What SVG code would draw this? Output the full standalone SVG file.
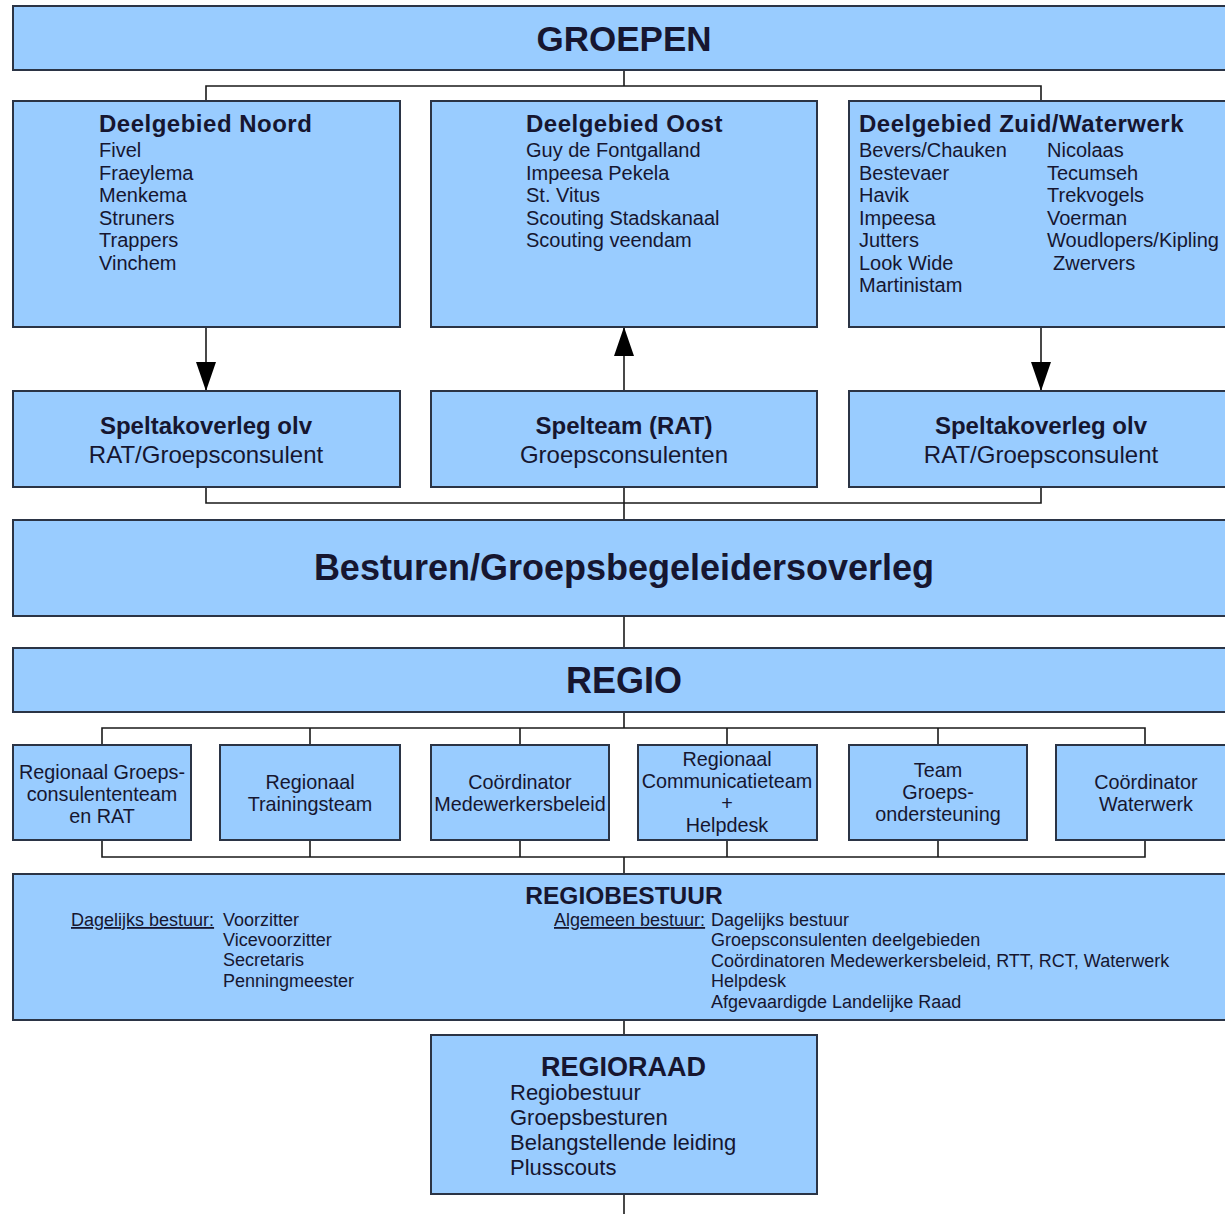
<svg xmlns="http://www.w3.org/2000/svg" width="1225" height="1214" viewBox="0 0 1225 1214">
<style>
.box{fill:#99ccff;stroke:#2b3445;stroke-width:2}
.c{fill:none;stroke:#1a1a1a;stroke-width:1.6}
text{font-family:"Liberation Sans",Arial,sans-serif;fill:#161630}
.b{font-weight:bold}
.m{text-anchor:middle}
.h1{font-size:24px;font-weight:bold;letter-spacing:0.5px}
.it{font-size:20px}
.s2{font-size:24px}
.r3{font-size:19.8px;text-anchor:middle}
.rb{font-size:18px}
.u{text-decoration:underline}
.rr{font-size:22px}
</style>
<defs>
<marker id="ah" viewBox="0 0 29 20" refX="29" refY="10" markerWidth="29" markerHeight="20" orient="auto" markerUnits="userSpaceOnUse">
<path d="M0,0 L29,10 L0,20 z" fill="#000"/>
</marker>
</defs>
<rect width="1225" height="1214" fill="#ffffff"/>

<g id="connectors">
<path class="c" d="M624 70 V86 M206 101 V86 H1041 V101"/>
<path class="c" d="M206 327 V391" marker-end="url(#ah)"/>
<path class="c" d="M624 391 V327" marker-end="url(#ah)"/>
<path class="c" d="M1041 327 V391" marker-end="url(#ah)"/>
<path class="c" d="M206 487 V503 H1041 V487 M624 487 V520"/>
<path class="c" d="M624 616 V648"/>
<path class="c" d="M624 712 V728 M102 745 V728 H1145 V745 M310 728 V745 M520 728 V745 M727 728 V745 M938 728 V745"/>
<path class="c" d="M102 840 V857 H1145 V840 M310 840 V857 M520 840 V857 M727 840 V857 M938 840 V857 M624 857 V874"/>
<path class="c" d="M624 1020 V1035"/>
<path class="c" d="M624 1194 V1214"/>
</g>

<g id="groepen">
<rect class="box" x="13" y="6" width="1230" height="64"/>
<text class="b m" x="624" y="51" font-size="35">GROEPEN</text>
</g>

<g id="noord">
<rect class="box" x="13" y="101" width="387" height="226"/>
<text class="h1" x="99" y="132">Deelgebied Noord</text>
<text class="it" x="99" y="157">Fivel</text>
<text class="it" x="99" y="179.5">Fraeylema</text>
<text class="it" x="99" y="202">Menkema</text>
<text class="it" x="99" y="224.5">Struners</text>
<text class="it" x="99" y="247">Trappers</text>
<text class="it" x="99" y="269.5">Vinchem</text>
</g>

<g id="oost">
<rect class="box" x="431" y="101" width="386" height="226"/>
<text class="h1" x="526" y="132">Deelgebied Oost</text>
<text class="it" x="526" y="157">Guy de Fontgalland</text>
<text class="it" x="526" y="179.5">Impeesa Pekela</text>
<text class="it" x="526" y="202">St. Vitus</text>
<text class="it" x="526" y="224.5">Scouting Stadskanaal</text>
<text class="it" x="526" y="247">Scouting veendam</text>
</g>

<g id="zuid">
<rect class="box" x="849" y="101" width="394" height="226"/>
<text class="h1" x="859" y="132">Deelgebied Zuid/Waterwerk</text>
<text class="it" x="859" y="157">Bevers/Chauken</text>
<text class="it" x="859" y="179.5">Bestevaer</text>
<text class="it" x="859" y="202">Havik</text>
<text class="it" x="859" y="224.5">Impeesa</text>
<text class="it" x="859" y="247">Jutters</text>
<text class="it" x="859" y="269.5">Look Wide</text>
<text class="it" x="859" y="292">Martinistam</text>
<text class="it" x="1047" y="157">Nicolaas</text>
<text class="it" x="1047" y="179.5">Tecumseh</text>
<text class="it" x="1047" y="202">Trekvogels</text>
<text class="it" x="1047" y="224.5">Voerman</text>
<text class="it" x="1047" y="247">Woudlopers/Kipling</text>
<text class="it" x="1053" y="269.5">Zwervers</text>
</g>

<g id="speltak-noord">
<rect class="box" x="13" y="391" width="387" height="96"/>
<text class="s2 b m" x="206" y="434">Speltakoverleg olv</text>
<text class="s2 m" x="206" y="463">RAT/Groepsconsulent</text>
</g>

<g id="spelteam">
<rect class="box" x="431" y="391" width="386" height="96"/>
<text class="s2 b m" x="624" y="434">Spelteam (RAT)</text>
<text class="s2 m" x="624" y="463">Groepsconsulenten</text>
</g>

<g id="speltak-zuid">
<rect class="box" x="849" y="391" width="394" height="96"/>
<text class="s2 b m" x="1041" y="434">Speltakoverleg olv</text>
<text class="s2 m" x="1041" y="463">RAT/Groepsconsulent</text>
</g>

<g id="besturen">
<rect class="box" x="13" y="520" width="1230" height="96"/>
<text class="b m" x="624" y="580" font-size="36">Besturen/Groepsbegeleidersoverleg</text>
</g>

<g id="regio">
<rect class="box" x="13" y="648" width="1230" height="64"/>
<text class="b m" x="624" y="693" font-size="36">REGIO</text>
</g>

<g id="rgc">
<rect class="box" x="13" y="745" width="178" height="95"/>
<text class="r3" x="102" y="779">Regionaal Groeps-</text>
<text class="r3" x="102" y="801">consulententeam</text>
<text class="r3" x="102" y="823">en RAT</text>
</g>

<g id="rtt">
<rect class="box" x="220" y="745" width="180" height="95"/>
<text class="r3" x="310" y="789">Regionaal</text>
<text class="r3" x="310" y="811">Trainingsteam</text>
</g>

<g id="cmb">
<rect class="box" x="431" y="745" width="178" height="95"/>
<text class="r3" x="520" y="789">Coördinator</text>
<text class="r3" x="520" y="811">Medewerkersbeleid</text>
</g>

<g id="rct">
<rect class="box" x="638" y="745" width="179" height="95"/>
<text class="r3" x="727" y="766">Regionaal</text>
<text class="r3" x="727" y="788">Communicatieteam</text>
<text class="r3" x="727" y="810">+</text>
<text class="r3" x="727" y="832">Helpdesk</text>
</g>

<g id="tgo">
<rect class="box" x="849" y="745" width="178" height="95"/>
<text class="r3" x="938" y="777">Team</text>
<text class="r3" x="938" y="799">Groeps-</text>
<text class="r3" x="938" y="821">ondersteuning</text>
</g>

<g id="cww">
<rect class="box" x="1056" y="745" width="187" height="95"/>
<text class="r3" x="1146" y="789">Coördinator</text>
<text class="r3" x="1146" y="811">Waterwerk</text>
</g>

<g id="regiobestuur">
<rect class="box" x="13" y="874" width="1230" height="146"/>
<text class="b m" x="624" y="904" font-size="24.5">REGIOBESTUUR</text>
<text class="rb u" x="71" y="926">Dagelijks bestuur:</text>
<text class="rb" x="223" y="926">Voorzitter</text>
<text class="rb" x="223" y="946">Vicevoorzitter</text>
<text class="rb" x="223" y="966">Secretaris</text>
<text class="rb" x="223" y="987">Penningmeester</text>
<text class="rb u" x="554" y="926">Algemeen bestuur:</text>
<text class="rb" x="711" y="926">Dagelijks bestuur</text>
<text class="rb" x="711" y="946">Groepsconsulenten deelgebieden</text>
<text class="rb" x="711" y="967">Coördinatoren Medewerkersbeleid, RTT, RCT, Waterwerk</text>
<text class="rb" x="711" y="987">Helpdesk</text>
<text class="rb" x="711" y="1008">Afgevaardigde Landelijke Raad</text>
</g>

<g id="regioraad">
<rect class="box" x="431" y="1035" width="386" height="159"/>
<text class="b" x="541" y="1076" font-size="27">REGIORAAD</text>
<text class="rr" x="510" y="1100">Regiobestuur</text>
<text class="rr" x="510" y="1125">Groepsbesturen</text>
<text class="rr" x="510" y="1150">Belangstellende leiding</text>
<text class="rr" x="510" y="1175">Plusscouts</text>
</g>
</svg>
